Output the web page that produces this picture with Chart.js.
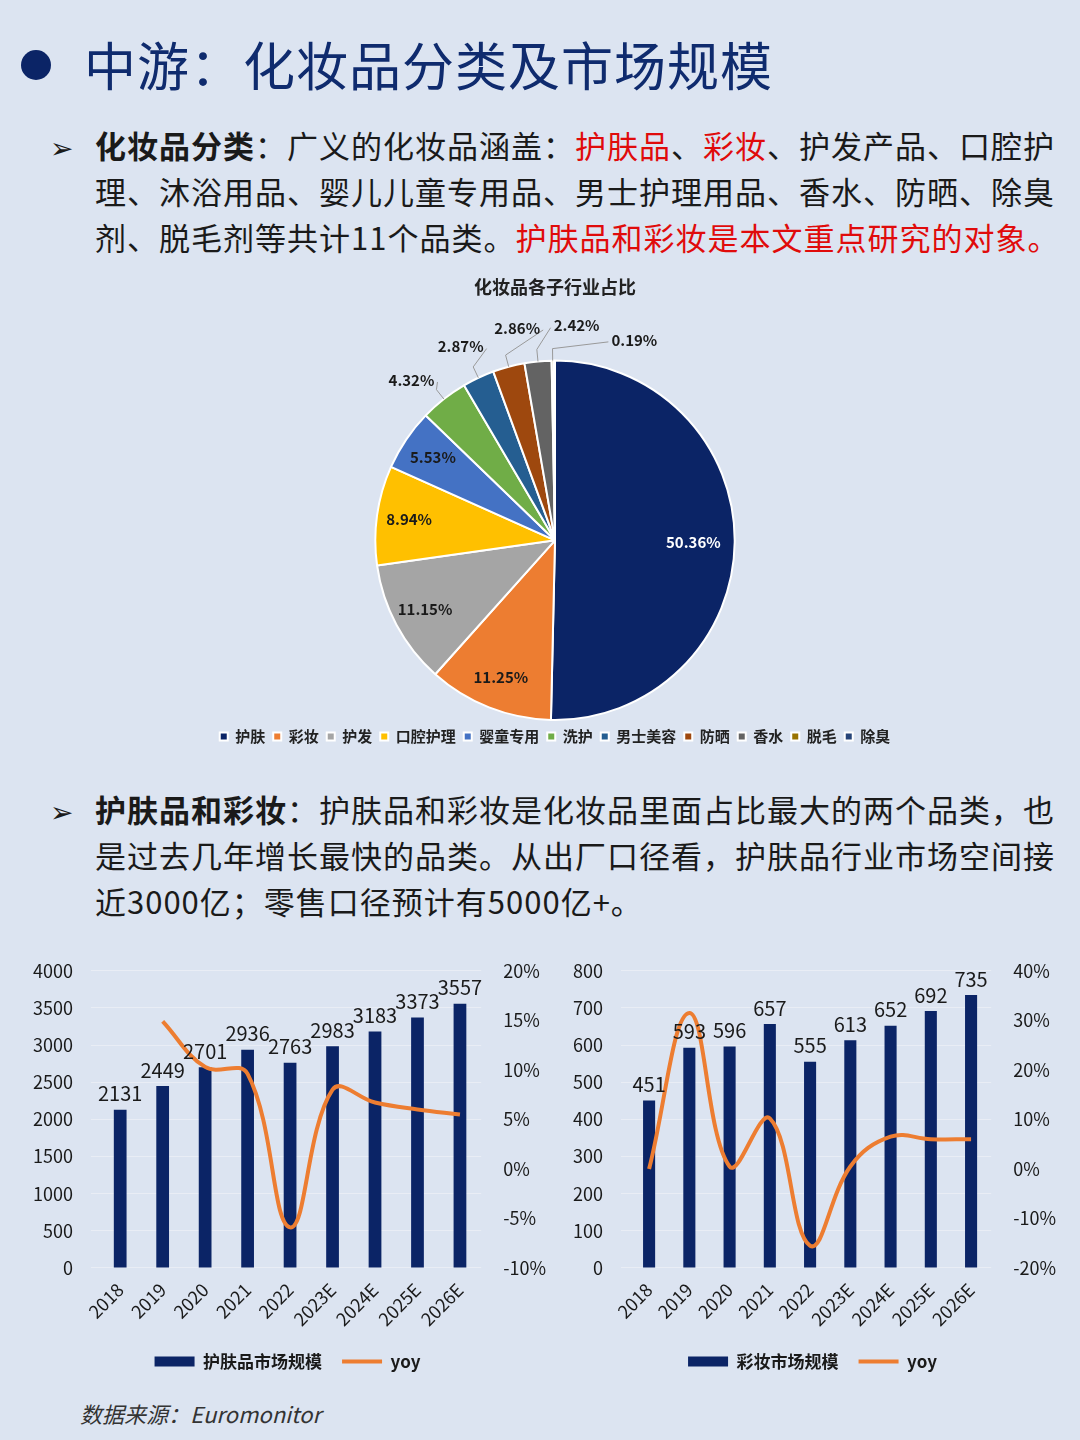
<!DOCTYPE html>
<html lang="zh">
<head>
<meta charset="UTF-8">
<script src="https://cdn.jsdelivr.net/npm/chart.js"></script>
<style>
  body { margin: 0; width: 1080px; height: 1440px; background: #dce4f1; position: relative; overflow: hidden;
         font-family: "Noto Sans CJK SC", "Noto Sans", sans-serif; color: #1a1a1a; }
  .dot { position: absolute; left: 21px; top: 50px; width: 30px; height: 30px; border-radius: 50%; background: #0b2466; }
  .title { position: absolute; left: 84px; top: 26px; font-size: 52px; letter-spacing: 1px; color: #0f2b6e; white-space: nowrap; }
  .para { position: absolute; left: 95px; font-size: 31px; line-height: 46px; letter-spacing: 1px; white-space: nowrap; }
  .arrow { position: absolute; left: 50px; font-size: 28px; }
  .red { color: #e00b0b; }
  b { font-weight: 700; }
  .src { position: absolute; left: 80px; top: 1397px; font-size: 22px; font-style: italic; color: #333; }
  canvas { position: absolute; }
</style>
</head>
<body>
<div class="dot"></div>
<div class="title">中游：化妆品分类及市场规模</div>

<div class="arrow" style="top:126px">➢</div>
<div class="para" style="top:122px">
<b>化妆品分类</b>：广义的化妆品涵盖：<span class="red">护肤品</span>、<span class="red">彩妆</span>、护发产品、口腔护<br>
理、沐浴用品、婴儿儿童专用品、男士护理用品、香水、防晒、除臭<br>
剂、脱毛剂等共计11个品类。<span class="red">护肤品和彩妆是本文重点研究的对象。</span>
</div>

<div class="arrow" style="top:790px">➢</div>
<div class="para" style="top:786px">
<b>护肤品和彩妆</b>：护肤品和彩妆是化妆品里面占比最大的两个品类，也<br>
是过去几年增长最快的品类。从出厂口径看，护肤品行业市场空间接<br>
近3000亿；零售口径预计有5000亿+。
</div>

<canvas id="pie" style="left:0;top:270px" width="1080" height="490"></canvas>
<canvas id="skin" style="left:15px;top:942px" width="545" height="438"></canvas>
<canvas id="makeup" style="left:555px;top:942px" width="515" height="438"></canvas>

<div class="src">数据来源：Euromonitor</div>

<script>
const pieLabels = ['护肤', '彩妆', '护发', '口腔护理', '婴童专用', '洗护', '男士美容', '防晒', '香水', '脱毛', '除臭'];
const pieValues = [50.36, 11.25, 11.15, 8.94, 5.53, 4.32, 2.87, 2.86, 2.42, 0.19, 0.11];
const pieColors = ['#0b2466', '#ed7d31', '#a5a5a5', '#ffc000', '#4472c4', '#70ad47', '#255e91', '#9e480e', '#636363', '#997300', '#264478'];

const years = ['2018', '2019', '2020', '2021', '2022', '2023E', '2024E', '2025E', '2026E'];
const skinSize = [2131, 2449, 2701, 2936, 2763, 2983, 3183, 3373, 3557];
const skinYoy = [null, 14.9, 10.3, 9.6, -5.9, 8.0, 6.7, 6.0, 5.5];
const makeupSize = [451, 593, 596, 657, 555, 613, 652, 692, 735];
const makeupYoy = [0, 31.5, 0.5, 10.2, -15.5, 0.5, 6.5, 6.0, 6.0];

const FONT = '"Noto Sans CJK SC", "Noto Sans", sans-serif';
Chart.defaults.font.family = FONT;
Chart.defaults.color = '#1a1a1a';

// percentage labels: inside for big slices, outside with leader lines for small ones
const pieLabelPlugin = {
  id: 'pieLabels',
  afterDatasetsDraw(chart) {
    const ctx = chart.ctx;
    const arcs = chart.getDatasetMeta(0).data;
    ctx.save();
    ctx.font = 'bold 15px ' + FONT;
    ctx.textAlign = 'center';
    ctx.textBaseline = 'middle';
    let lastAng = -Infinity;
    arcs.forEach((arc, i) => {
      if (i === pieValues.length - 1) return;
      const { x, y, startAngle, endAngle, outerRadius: r } = arc.getProps(['x', 'y', 'startAngle', 'endAngle', 'outerRadius'], true);
      const mid = (startAngle + endAngle) / 2;
      const text = pieValues[i].toFixed(2) + '%';
      if (pieValues[i] > 5) {
        ctx.fillStyle = i === 0 ? '#fff' : '#1a1a1a';
        const k = i === 0 ? 0.77 : 0.82;
        ctx.fillText(text, x + Math.cos(mid) * r * k, y + Math.sin(mid) * r * k);
      } else {
        const ang = Math.max(mid - 4 * Math.PI / 180, lastAng + 16 * Math.PI / 180);
        lastAng = ang;
        const lr = r + 34;
        const lx = x + Math.cos(ang) * lr, ly = y + Math.sin(ang) * lr;
        ctx.strokeStyle = '#999';
        ctx.lineWidth = 1;
        ctx.beginPath();
        ctx.moveTo(x + Math.cos(mid) * r, y + Math.sin(mid) * r);
        ctx.lineTo(x + Math.cos(mid) * (r + 12), y + Math.sin(mid) * (r + 12));
        ctx.lineTo(lx + (lx < x ? 26 : -26), ly);
        ctx.stroke();
        ctx.fillStyle = '#1a1a1a';
        ctx.fillText(text, lx, ly - 2);
      }
    });
    ctx.restore();
  }
};

new Chart(document.getElementById('pie'), {
  type: 'pie',
  data: { labels: pieLabels, datasets: [{ data: pieValues, backgroundColor: pieColors, borderColor: '#fff', borderWidth: 2 }] },
  options: {
    responsive: false, animation: false,
    layout: { padding: { left: 30, top: 0, bottom: 6 } },
    plugins: {
      title: { display: true, text: '化妆品各子行业占比', font: { size: 18, weight: 'bold' }, color: '#222', padding: { top: 6, bottom: 62 } },
      legend: { position: 'bottom', labels: { boxWidth: 8, boxHeight: 8, padding: 8, font: { size: 15, weight: 'bold' }, color: '#222' } },
      tooltip: { enabled: false }
    }
  },
  plugins: [pieLabelPlugin]
});

const barLabelPlugin = {
  id: 'barLabels',
  afterDatasetsDraw(chart) {
    const ctx = chart.ctx;
    const meta = chart.getDatasetMeta(0);
    const vals = chart.data.datasets[0].data;
    ctx.save();
    ctx.font = '20px ' + FONT;
    ctx.fillStyle = '#1a1a1a';
    ctx.textAlign = 'center';
    ctx.textBaseline = 'bottom';
    meta.data.forEach((bar, i) => ctx.fillText(vals[i], bar.x, bar.y - 6));
    ctx.restore();
  }
};

function makeCombo(id, label, sizes, yoy, yMax, yStep, rMin, rMax, rStep) {
  new Chart(document.getElementById(id), {
    data: {
      labels: years,
      datasets: [
        { type: 'bar', label: label, data: sizes, backgroundColor: '#0b2466', yAxisID: 'y', order: 2,
          barPercentage: 0.3, categoryPercentage: 1, pointStyle: 'rect' },
        { type: 'line', label: 'yoy', data: yoy, borderColor: '#ed7d31', backgroundColor: '#ed7d31', borderWidth: 4,
          pointRadius: 0, tension: 0.4, yAxisID: 'y1', order: 1, pointStyle: 'line' }
      ]
    },
    options: {
      responsive: false, animation: false,
      layout: { padding: { top: 8 } },
      scales: {
        x: { grid: { display: false }, border: { display: false },
             ticks: { maxRotation: 45, minRotation: 45, font: { size: 18 }, color: '#1a1a1a' } },
        y: { min: 0, max: yMax, ticks: { stepSize: yStep, font: { size: 18 }, color: '#1a1a1a', padding: 18, callback: v => String(v) },
             grid: { color: '#e9edf5' }, border: { display: false } },
        y1: { position: 'right', min: rMin, max: rMax, grid: { display: false }, border: { display: false },
              ticks: { stepSize: rStep, font: { size: 18 }, color: '#1a1a1a', padding: 14, callback: v => v + '%' } }
      },
      plugins: {
        legend: { position: 'bottom', labels: { usePointStyle: true, pointStyleWidth: 40, boxHeight: 10, padding: 20,
                  font: { size: 17, weight: 'bold' }, color: '#1a1a1a', sort: (a, b) => a.datasetIndex - b.datasetIndex } },
        tooltip: { enabled: false }
      }
    },
    plugins: [barLabelPlugin]
  });
}

makeCombo('skin', '护肤品市场规模', skinSize, skinYoy, 4000, 500, -10, 20, 5);
makeCombo('makeup', '彩妆市场规模', makeupSize, makeupYoy, 800, 100, -20, 40, 10);
</script>
</body>
</html>
